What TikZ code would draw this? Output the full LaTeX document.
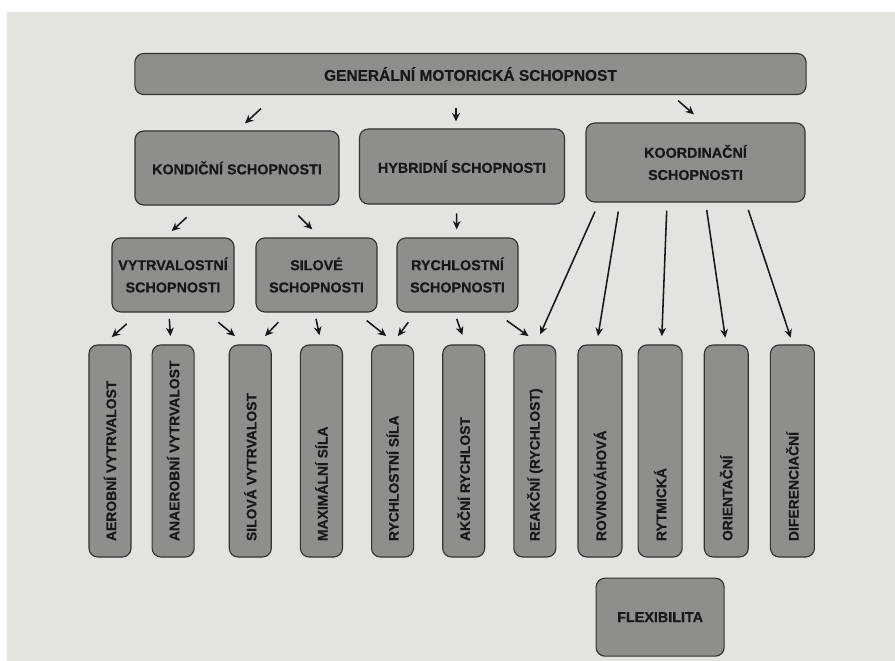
\documentclass[tikz,border=0pt]{standalone}
\usepackage{fontspec}
\setmainfont{Liberation Sans}[BoldFeatures={FakeBold=0.5}]
\usepackage{graphicx}
\usepackage{xcolor}
\usepackage{tikz}
\usetikzlibrary{arrows.meta, positioning}

\definecolor{paper}{RGB}{228,227,223}
\definecolor{boxgray}{RGB}{143,142,138}
\definecolor{boxline}{RGB}{50,50,48}
\definecolor{ink}{RGB}{24,24,24}

\newcommand{\vtext}[1]{\rotatebox{90}{\makebox[4.5cm][l]{#1}}}

\begin{document}
\begin{tikzpicture}[
 x=0.025cm, y=-0.025cm,
 >={Stealth[length=6pt,width=5.5pt]},
 skillbox/.style={rectangle,rounded corners=0.22cm,draw=boxline,fill=boxgray,
   line width=0.8pt,text=ink,align=center,inner sep=0pt,
   font=\fontsize{10.2}{15.8}\selectfont\bfseries},
 leafbox/.style={skillbox,minimum width=1.05cm,minimum height=5.3cm,
   font=\fontsize{9.9}{12}\selectfont\bfseries},
 arr/.style={->,line width=1.1pt,draw=ink}]
 \useasboundingbox (0,0) rectangle (895,661);
 \fill[white] (0,0) rectangle (895,661);
 \fill[paper] (7,12) rectangle (895,661);

 \node[skillbox,minimum width=16.775cm,minimum height=1.025cm,
   font=\fontsize{11}{13}\selectfont\bfseries] (gen) at (470.5,74)
   {GENERÁLNÍ MOTORICKÁ SCHOPNOST};
 \node[skillbox,minimum width=5.1cm,minimum height=1.85cm] (kond) at (237,168)
   {KONDIČNÍ SCHOPNOSTI};
 \node[skillbox,minimum width=5.125cm,minimum height=1.875cm] (hybr) at (462,166.5)
   {HYBRIDNÍ SCHOPNOSTI};
 \node[skillbox,minimum width=5.475cm,minimum height=1.975cm] (koord) at (695.5,162.5)
   {KOORDINAČNÍ\\SCHOPNOSTI};
 \node[skillbox,minimum width=3.05cm,minimum height=1.85cm] (vytr) at (173,275)
   {VYTRVALOSTNÍ\\SCHOPNOSTI};
 \node[skillbox,minimum width=3.025cm,minimum height=1.85cm] (sil) at (316.5,275)
   {SILOVÉ\\SCHOPNOSTI};
 \node[skillbox,minimum width=3.025cm,minimum height=1.85cm] (rychl) at (457.5,275)
   {RYCHLOSTNÍ\\SCHOPNOSTI};

 \node[leafbox] (aer) at (110,451) {\vtext{AEROBNÍ VYTRVALOST}};
 \node[leafbox,right=0.5cm of aer] (anaer) {\vtext{ANAEROBNÍ VYTRVALOST}};
 \node[leafbox,right=0.85cm of anaer] (silvytr) {\vtext{SILOVÁ VYTRVALOST}};
 \node[leafbox,right=0.7cm of silvytr] (maxsil) {\vtext{MAXIMÁLNÍ SÍLA}};
 \node[leafbox,right=0.7cm of maxsil] (rychsil) {\vtext{RYCHLOSTNÍ SÍLA}};
 \node[leafbox,right=0.7cm of rychsil] (akcni) {\vtext{AKČNÍ RYCHLOST}};
 \node[leafbox,right=0.7cm of akcni] (reakcni) {\vtext{REAKČNÍ (RYCHLOST)}};
 \node[leafbox,minimum width=1.1cm,right=0.525cm of reakcni] (rovn) {\vtext{ROVNOVÁHOVÁ}};
 \node[leafbox,minimum width=1.1cm,right=0.375cm of rovn] (rytm) {\vtext{RYTMICKÁ}};
 \node[leafbox,minimum width=1.1cm,right=0.525cm of rytm] (orient) {\vtext{ORIENTAČNÍ}};
 \node[leafbox,minimum width=1.1cm,right=0.525cm of orient] (difer) {\vtext{DIFERENCIAČNÍ}};
 \node[skillbox,minimum width=3.2cm,minimum height=1.95cm,below=0.5cm of rytm] (flex)
   {FLEXIBILITA};

 \draw[arr] ([shift={(-209.5,13.5)}]gen.south) -- ([shift={(8,-7)}]kond.north);
 \draw[arr] ([shift={(-14.5,12.5)}]gen.south) -- ([shift={(-6,-7)}]hybr.north);
 \draw[arr] ([shift={(207.5,5.5)}]gen.south) -- ([shift={(-1.5,-8)}]koord.north);

 \draw[arr] ([shift={(-50.3,11.7)}]kond.south) -- ([shift={(-1.3,-6.3)}]vytr.north);
 \draw[arr] ([shift={(61.3,10)}]kond.south) -- ([shift={(-4.2,-8)}]sil.north);
 \draw[arr] ([shift={(-5.3,8.7)}]hybr.south) -- ([shift={(-0.8,-8)}]rychl.north);

 \draw[arr] ([shift={(-46.3,11.3)}]vytr.south) -- ([shift={(1.7,-7.3)}]aer.north);
 \draw[arr] ([shift={(-3.7,6.3)}]vytr.south) -- ([shift={(-2.7,-8.3)}]anaer.north);
 \draw[arr] ([shift={(45.3,9.7)}]vytr.south) -- ([shift={(-15.3,-8.3)}]silvytr.north);
 \draw[arr] ([shift={(-38.2,9.7)}]sil.south) -- ([shift={(14.7,-8.3)}]silvytr.north);
 \draw[arr] ([shift={(-0.5,6.3)}]sil.south) -- ([shift={(-2,-9.3)}]maxsil.north);
 \draw[arr] ([shift={(50.2,8)}]sil.south) -- ([shift={(-6.3,-8.3)}]rychsil.north);
 \draw[arr] ([shift={(-49.2,9.7)}]rychl.south) -- ([shift={(5.3,-8.3)}]rychsil.north);
 \draw[arr] ([shift={(-0.8,6.3)}]rychl.south) -- ([shift={(-1.3,-9.3)}]akcni.north);
 \draw[arr] ([shift={(49.2,8)}]rychl.south) -- ([shift={(-6.3,-8.3)}]reakcni.north);

 \draw[arr] ([shift={(-100.5,9)}]koord.south) -- ([shift={(5.3,-10)}]reakcni.north);
 \draw[arr] ([shift={(-77.2,9)}]koord.south) -- ([shift={(-2,-8.3)}]rovn.north);
 \draw[arr] ([shift={(-28.8,8)}]koord.south) -- ([shift={(1.7,-8.3)}]rytm.north);
 \draw[arr] ([shift={(11.2,7.3)}]koord.south) -- ([shift={(-1,-6.7)}]orient.north);
 \draw[arr] ([shift={(52.8,7.3)}]koord.south) -- ([shift={(-1.7,-6.7)}]difer.north);
\end{tikzpicture}
\end{document}
